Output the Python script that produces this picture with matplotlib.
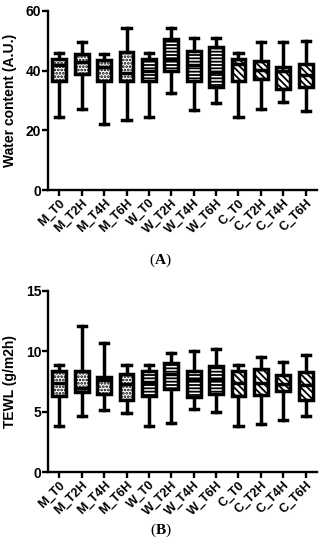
import matplotlib
matplotlib.use("Agg")
import matplotlib.pyplot as plt

plt.rcParams["font.family"] = ["Liberation Sans", "DejaVu Sans"]
plt.rcParams["mathtext.fontset"] = "custom"
plt.rcParams["mathtext.rm"] = "Liberation Serif"
plt.rcParams["mathtext.bf"] = "Liberation Serif:bold"
plt.rcParams["hatch.linewidth"] = 1.3

groups = ["M_T0", "M_T2H", "M_T4H", "M_T6H", "W_T0", "W_T2H", "W_T4H", "W_T6H",
          "C_T0", "C_T2H", "C_T4H", "C_T6H"]
hatches = ["....."] * 4 + ["-----"] * 4 + ["\\\\\\\\\\"] * 4

# Water content (A.U.) — min, Q1, median, Q3, max
water_min = [24.5, 27.0, 22.0, 23.6, 24.4, 32.5, 26.8, 29.0, 24.4, 27.3, 29.5, 26.5]
water_q1 = [36.4, 39.0, 36.4, 36.6, 36.5, 39.9, 36.5, 34.5, 36.5, 37.1, 33.8, 34.6]
water_med = [41.8, 43.0, 41.3, 39.2, 40.0, 44.0, 41.9, 39.7, 42.3, 40.2, 39.8, 38.5]
water_q3 = [43.8, 45.7, 43.6, 46.3, 43.8, 50.7, 46.5, 47.9, 43.9, 43.4, 41.3, 42.4]
water_max = [45.8, 49.7, 45.5, 54.3, 45.8, 54.4, 51.0, 50.8, 45.8, 49.7, 49.7, 50.0]

# TEWL (g/m2h) — min, Q1, median, Q3, max
tewl_min = [3.8, 4.6, 5.1, 4.9, 3.8, 4.05, 5.2, 5.0, 3.8, 4.0, 4.3, 4.6]
tewl_q1 = [6.3, 6.65, 6.45, 5.95, 6.3, 6.85, 6.25, 6.45, 6.3, 6.35, 6.75, 6.0]
tewl_med = [7.4, 7.0, 7.6, 7.25, 7.4, 8.1, 7.6, 7.6, 7.4, 7.4, 7.3, 7.2]
tewl_q3 = [8.35, 8.35, 7.9, 8.1, 8.35, 9.05, 8.4, 8.8, 8.35, 8.5, 8.0, 8.3]
tewl_max = [8.85, 12.1, 10.7, 8.85, 8.85, 9.9, 10.05, 10.2, 8.85, 9.5, 9.1, 9.7]


def box_stats(mins, q1s, meds, q3s, maxs):
    return [
        {"whislo": lo, "q1": a, "med": m, "q3": b, "whishi": hi, "fliers": []}
        for lo, a, m, b, hi in zip(mins, q1s, meds, q3s, maxs)
    ]


def draw_panel(ax, stats, ymax, yticks, ylabel):
    lw = 2.5
    bp = ax.bxp(
        stats, positions=range(1, len(stats) + 1), widths=0.62, capwidths=0.36,
        patch_artist=True, showfliers=False,
        boxprops=dict(facecolor="white", edgecolor="black", linewidth=lw),
        medianprops=dict(color="black", linewidth=lw),
        whiskerprops=dict(color="black", linewidth=lw),
        capprops=dict(color="black", linewidth=lw),
    )
    for patch, h in zip(bp["boxes"], hatches):
        patch.set_hatch(h)

    ax.set_xlim(0.5, 12.5)
    ax.set_ylim(0, ymax)
    ax.set_yticks(yticks)
    ax.set_xticks(range(1, len(groups) + 1))
    ax.set_xticklabels(groups, rotation=45, ha="right", rotation_mode="anchor",
                       fontsize=9, fontweight="bold")
    for lab in ax.get_yticklabels():
        lab.set_fontweight("bold")
        lab.set_fontsize(10)
    ax.set_ylabel(ylabel, fontsize=10, fontweight="bold", labelpad=6)
    ax.spines["top"].set_visible(False)
    ax.spines["right"].set_visible(False)
    ax.spines["left"].set_linewidth(1.7)
    ax.spines["bottom"].set_linewidth(1.7)
    ax.tick_params(axis="both", direction="out", length=4, width=1.7, pad=1)


fig = plt.figure(figsize=(3.23, 5.5), dpi=100)
ax_top = fig.add_axes([0.149, 0.6545, 0.832, 0.3255])
ax_bot = fig.add_axes([0.149, 0.1418, 0.832, 0.3292])

draw_panel(ax_top, box_stats(water_min, water_q1, water_med, water_q3, water_max),
           60, [0, 20, 40, 60], "Water content (A.U.)")
draw_panel(ax_bot, box_stats(tewl_min, tewl_q1, tewl_med, tewl_q3, tewl_max),
           15, [0, 5, 10, 15], "TEWL (g/m2h)")

fig.text(0.497, 0.527, r"($\mathbf{A}$)", ha="center", va="center", fontsize=11,
         family="Liberation Serif")
fig.text(0.497, 0.036, r"($\mathbf{B}$)", ha="center", va="center", fontsize=11,
         family="Liberation Serif")

fig.savefig("out.png", dpi=100, facecolor="white")
